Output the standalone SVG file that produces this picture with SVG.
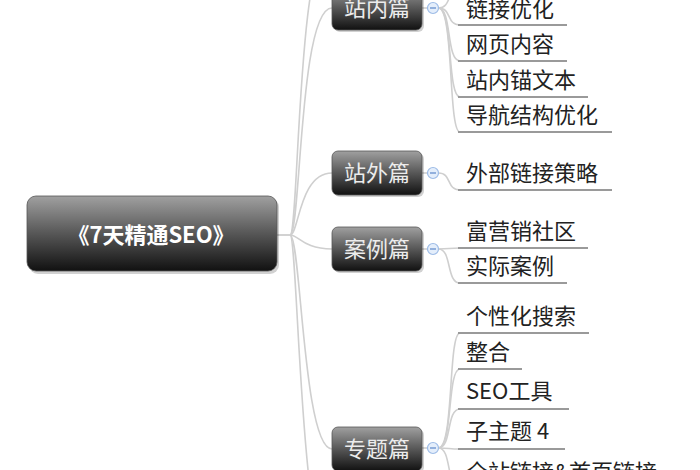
<svg xmlns="http://www.w3.org/2000/svg" width="700" height="470" viewBox="0 0 700 470">
<defs>
<linearGradient id="g" x1="0" y1="0" x2="0" y2="1">
<stop offset="0" stop-color="#a0a0a0"/>
<stop offset="0.45" stop-color="#5e5e5e"/>
<stop offset="1" stop-color="#111111"/>
</linearGradient>
<style>
.conn{fill:none;stroke:#cfcfcf;stroke-width:1.6}
.ul{fill:none;stroke:#9a9a9a;stroke-width:2}
.box{fill:url(#g);stroke:#555;stroke-width:0.8}
.shadow{fill:#000;opacity:0.18}
.ntext{font-family:"Noto Sans CJK SC","Noto Sans",sans-serif;font-size:22px;fill:#ececec;text-anchor:middle}
.rtext{font-family:"Noto Sans CJK SC","Liberation Sans",sans-serif;font-size:22px;font-weight:bold;fill:#ffffff;text-anchor:middle}
.leaf{font-family:"Noto Sans CJK SC","Noto Sans",sans-serif;font-size:22px;fill:#222222}
.btn{fill:#e4eefb;stroke:#9dbbe6;stroke-width:1.2}
.minus{stroke:#6f95d0;stroke-width:1.4}
</style>
</defs>
<rect width="700" height="470" fill="#ffffff"/>
<g id="connectors">
<path class="conn" d="M277,235 H290 C299,235 297,-60 332,-60"/>
<path class="conn" d="M277,235 H290 C301,235 299,8 332,8"/>
<path class="conn" d="M290,235 C299,235 299,173 332,173"/>
<path class="conn" d="M290,235 C299,235 303,249 332,249"/>
<path class="conn" d="M290,235 C301,235 303,449 332,449"/>
<path class="conn" d="M290,235 C298,235 300,560 332,560"/>
<path class="conn" d="M422,8 H427.5"/>
<path class="conn" d="M422,173 H427.5"/>
<path class="conn" d="M422,249 H427.5"/>
<path class="conn" d="M422,448 H427.5"/>
<path class="conn" d="M438.5,8 C452,8 446,-11 460,-11"/>
<path class="conn" d="M438.5,8 C452,8 446,25 460,25"/>
<path class="conn" d="M438.5,8 C452,8 446,61 460,61"/>
<path class="conn" d="M438.5,8 C453,8 447,97 460,97"/>
<path class="conn" d="M438.5,8 C454,8 448,132 460,132"/>
<path class="conn" d="M438.5,173 C452,173 446,190 460,190"/>
<path class="conn" d="M438.5,249 C450,249 448,248 460,248"/>
<path class="conn" d="M438.5,249 C452,249 446,283 460,283"/>
<path class="conn" d="M438.5,448 C454,448 448,333 460,333"/>
<path class="conn" d="M438.5,448 C453,448 447,369 460,369"/>
<path class="conn" d="M438.5,448 C452,448 446,409 460,409"/>
<path class="conn" d="M438.5,448 C450,448 448,449 460,449"/>
<path class="conn" d="M438.5,448 C452,448 446,489 460,489"/>
</g>
<g id="root">
<rect class="shadow" x="29" y="198" width="250" height="76" rx="9"/>
<rect class="box" x="27" y="196" width="250" height="75" rx="9"/>
<text class="rtext" x="151" y="243">《7天精通SEO》</text>
</g>
<g id="n-zhannei">
<rect class="shadow" x="334" y="-12" width="90" height="44" rx="6"/>
<rect class="box" x="332" y="-14" width="90" height="44" rx="6"/>
<text class="ntext" x="377" y="16">站内篇</text>
<circle class="btn" cx="433" cy="8" r="5.5"/><path class="minus" d="M430,8 H436"/>
</g>
<g id="n-zhanwai">
<rect class="shadow" x="334" y="153" width="90" height="44" rx="6"/>
<rect class="box" x="332" y="151" width="90" height="44" rx="6"/>
<text class="ntext" x="377" y="181">站外篇</text>
<circle class="btn" cx="433" cy="173" r="5.5"/><path class="minus" d="M430,173 H436"/>
</g>
<g id="n-anli">
<rect class="shadow" x="334" y="229" width="90" height="44" rx="6"/>
<rect class="box" x="332" y="227" width="90" height="44" rx="6"/>
<text class="ntext" x="377" y="257">案例篇</text>
<circle class="btn" cx="433" cy="249" r="5.5"/><path class="minus" d="M430,249 H436"/>
</g>
<g id="n-zhuanti">
<rect class="shadow" x="334" y="429" width="90" height="44" rx="6"/>
<rect class="box" x="332" y="427" width="90" height="44" rx="6"/>
<text class="ntext" x="377" y="457">专题篇</text>
<circle class="btn" cx="433" cy="448" r="5.5"/><path class="minus" d="M430,448 H436"/>
</g>
<g id="l-1"><text class="leaf" x="466" y="17">链接优化</text><path class="ul" d="M458,25 H567"/></g>
<g id="l-2"><text class="leaf" x="466" y="52">网页内容</text><path class="ul" d="M458,61 H567"/></g>
<g id="l-3"><text class="leaf" x="466" y="88">站内锚文本</text><path class="ul" d="M458,97 H588"/></g>
<g id="l-4"><text class="leaf" x="466" y="123">导航结构优化</text><path class="ul" d="M458,132 H612"/></g>
<g id="l-5"><text class="leaf" x="466" y="181">外部链接策略</text><path class="ul" d="M458,190 H612"/></g>
<g id="l-6"><text class="leaf" x="466" y="239">富营销社区</text><path class="ul" d="M458,248 H588"/></g>
<g id="l-7"><text class="leaf" x="466" y="274">实际案例</text><path class="ul" d="M458,283 H567"/></g>
<g id="l-8"><text class="leaf" x="466" y="324">个性化搜索</text><path class="ul" d="M458,333 H589"/></g>
<g id="l-9"><text class="leaf" x="466" y="360">整合</text><path class="ul" d="M458,369 H522"/></g>
<g id="l-10"><text class="leaf" x="466" y="399">SEO工具</text><path class="ul" d="M458,409 H569"/></g>
<g id="l-11"><text class="leaf" x="466" y="439">子主题 4</text><path class="ul" d="M458,449 H565"/></g>
<g id="l-12"><text class="leaf" x="466" y="480">全站链接&amp;首页链接</text><path class="ul" d="M458,489 H660"/></g>
</svg>
